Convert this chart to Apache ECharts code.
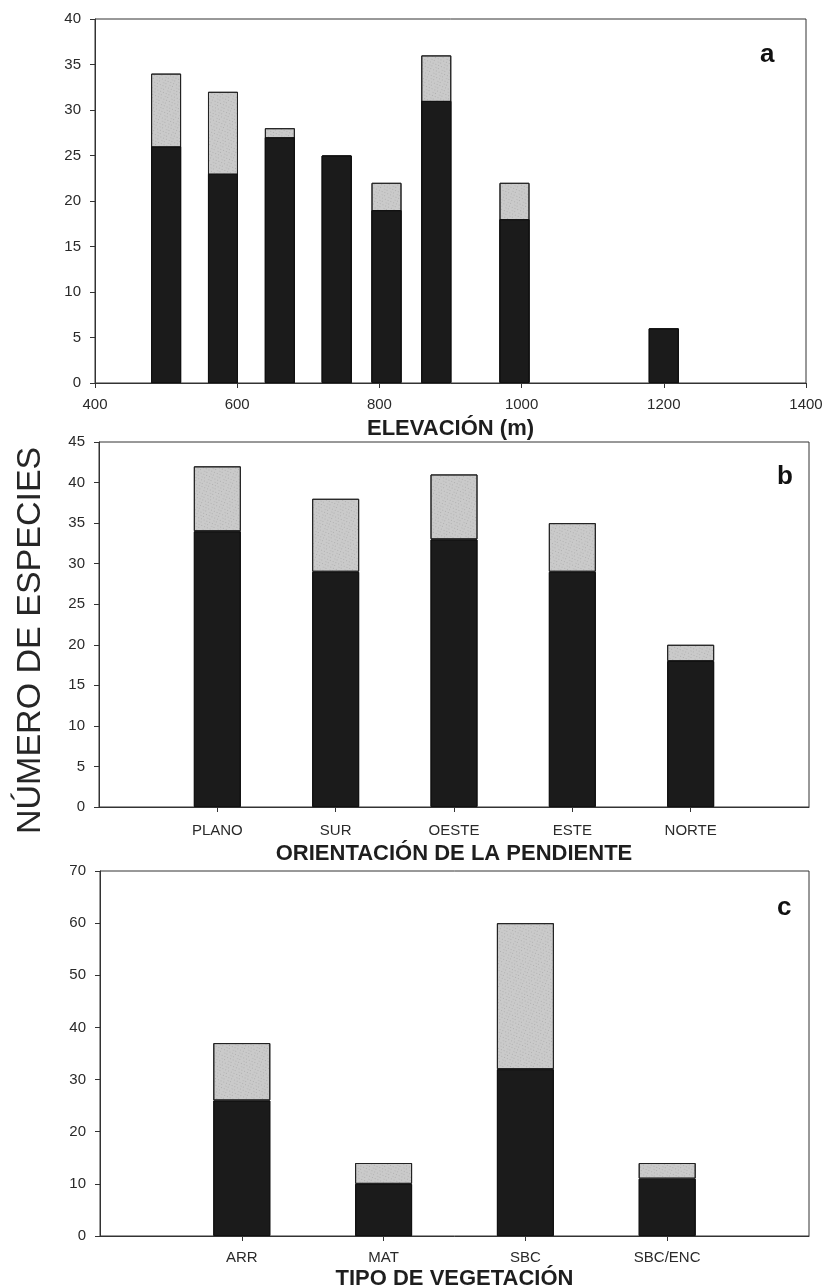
<!DOCTYPE html>
<html>
<head>
<meta charset="utf-8">
<script src="https://cdn.jsdelivr.net/npm/echarts@6/dist/echarts.min.js"></script>
<style>
  html, body { margin: 0; padding: 0; background: #fff; }
  #chart { width: 827px; height: 1287px; }
</style>
</head>
<body>
<div id="chart"></div>
<script>
// panel a: elevation (m)
var elevaciones = [500, 580, 660, 740, 810, 880, 990, 1200];
var elevOscuro = [26, 23, 27, 25, 19, 31, 18, 6];
var elevClaro  = [8, 9, 1, 0, 3, 5, 4, 0];

// panel b: slope aspect
var orientaciones = ['PLANO', 'SUR', 'OESTE', 'ESTE', 'NORTE'];
var orientOscuro = [34, 29, 33, 29, 18];
var orientClaro  = [8, 9, 8, 6, 2];

// panel c: vegetation type
var vegetacion = ['ARR', 'MAT', 'SBC', 'SBC/ENC'];
var vegOscuro = [26, 10, 32, 11];
var vegClaro  = [11, 4, 28, 3];

var FONT = '"Liberation Sans", Arial, sans-serif';
var DARK = '#1b1b1b';
var LIGHT = '#cacaca';

// speckled look of the light segments
var stipple = {
    symbol: 'circle',
    symbolSize: 0.8,
    color: 'rgba(60,60,60,0.4)',
    dashArrayX: [[1, 2], [2, 1, 1, 3]],
    dashArrayY: [1, 2],
    rotation: 0.4
};
var noDecal = { symbol: 'rect', color: 'rgba(0,0,0,0)' };

var darkStyle = { color: DARK, borderColor: '#111', borderWidth: 1, decal: noDecal };
var lightStyle = { color: LIGHT, borderColor: '#222', borderWidth: 1, decal: stipple };

function pad(arr) {
    // empty slot before and after so the bars sit like in the original
    return [''].concat(arr).concat(['']);
}
function padVals(arr) {
    return [null].concat(arr.map(function(v) { return v === 0 ? null : v; })).concat([null]);
}

var lineStyle = { color: '#333', width: 1 };
var tickLabel = { color: '#2a2a2a', fontFamily: FONT, fontSize: 15 };
var axisName = { color: '#1e1e1e', fontFamily: FONT, fontSize: 22, fontWeight: 'bold' };

function gridAt(left, top) {
    return {
        left: left, right: 18, top: top, height: 365, show: true,
        borderColor: '#333', borderWidth: 1, backgroundColor: 'transparent',
        outerBoundsMode: 'none', containLabel: false
    };
}

function yAxisFor(idx, max, step) {
    return {
        gridIndex: idx, type: 'value', min: 0, max: max, interval: step,
        axisLine: { show: true, lineStyle: lineStyle },
        axisTick: { show: true, inside: false, length: 5, lineStyle: lineStyle },
        axisLabel: Object.assign({ margin: 14 }, tickLabel),
        splitLine: { show: false }
    };
}

function catAxis(idx, cats, name, margin, gap) {
    var data = pad(cats);
    return {
        gridIndex: idx, type: 'category', data: data, boundaryGap: false,
        axisLine: { lineStyle: lineStyle },
        axisTick: {
            show: true, length: 5, lineStyle: lineStyle,
            interval: function(i) { return i > 0 && i < data.length - 1; }
        },
        axisLabel: Object.assign({}, tickLabel, { margin: margin, interval: 0 }),
        name: name, nameLocation: 'middle', nameGap: gap, nameTextStyle: axisName
    };
}

function pairs(xs, ys) {
    return xs.map(function(x, i) { return [x, ys[i]]; });
}
function totals(a, b) {
    return a.map(function(v, i) { return v + b[i]; });
}

var chart = echarts.init(document.getElementById('chart'), null, { renderer: 'canvas' });

var gridA = gridAt(95, 19);
gridA.right = 21;
gridA.height = 364;

var option = {
    backgroundColor: '#fff',
    animation: false,
    aria: { enabled: true, decal: { show: true } },
    grid: [gridA, gridAt(99, 442), gridAt(100, 871)],
    xAxis: [
        {
            gridIndex: 0, type: 'value', min: 400, max: 1400, interval: 200,
            axisLine: { show: true, lineStyle: lineStyle },
            axisTick: { show: true, length: 5, lineStyle: lineStyle },
            axisLabel: Object.assign({ margin: 14, formatter: function(v) { return String(v); } }, tickLabel),
            splitLine: { show: false },
            name: 'ELEVACIÓN (m)', nameLocation: 'middle', nameGap: 35, nameTextStyle: axisName
        },
        catAxis(1, orientaciones, 'ORIENTACIÓN DE LA PENDIENTE', 16, 36),
        catAxis(2, vegetacion, 'TIPO DE VEGETACIÓN', 14, 32)
    ],
    yAxis: [
        yAxisFor(0, 40, 5),
        yAxisFor(1, 45, 5),
        yAxisFor(2, 70, 10)
    ],
    series: [
        // panel a: total height drawn light, dark part laid on top
        {
            type: 'bar', xAxisIndex: 0, yAxisIndex: 0, barWidth: 30, barGap: '-100%',
            data: pairs(elevaciones, totals(elevOscuro, elevClaro)),
            itemStyle: lightStyle
        },
        {
            type: 'bar', xAxisIndex: 0, yAxisIndex: 0, barWidth: 30, barGap: '-100%',
            data: pairs(elevaciones, elevOscuro),
            itemStyle: darkStyle
        },
        {
            type: 'bar', xAxisIndex: 1, yAxisIndex: 1, stack: 'b', barWidth: 47,
            data: padVals(orientOscuro), itemStyle: darkStyle
        },
        {
            type: 'bar', xAxisIndex: 1, yAxisIndex: 1, stack: 'b', barWidth: 47,
            data: padVals(orientClaro), itemStyle: lightStyle
        },
        {
            type: 'bar', xAxisIndex: 2, yAxisIndex: 2, stack: 'c', barWidth: 57,
            data: padVals(vegOscuro), itemStyle: darkStyle
        },
        {
            type: 'bar', xAxisIndex: 2, yAxisIndex: 2, stack: 'c', barWidth: 57,
            data: padVals(vegClaro), itemStyle: lightStyle
        }
    ],
    graphic: [
        {
            type: 'text', x: 14, y: 834, rotation: Math.PI / 2,
            style: { text: 'NÚMERO DE ESPECIES', fill: '#262626', font: 'normal 34px ' + FONT }
        },
        { type: 'text', x: 760, y: 42, style: { text: 'a', fill: '#111', font: 'bold 26px ' + FONT } },
        { type: 'text', x: 777, y: 464, style: { text: 'b', fill: '#111', font: 'bold 26px ' + FONT } },
        { type: 'text', x: 777, y: 895, style: { text: 'c', fill: '#111', font: 'bold 26px ' + FONT } }
    ]
};

chart.setOption(option);
</script>
</body>
</html>
